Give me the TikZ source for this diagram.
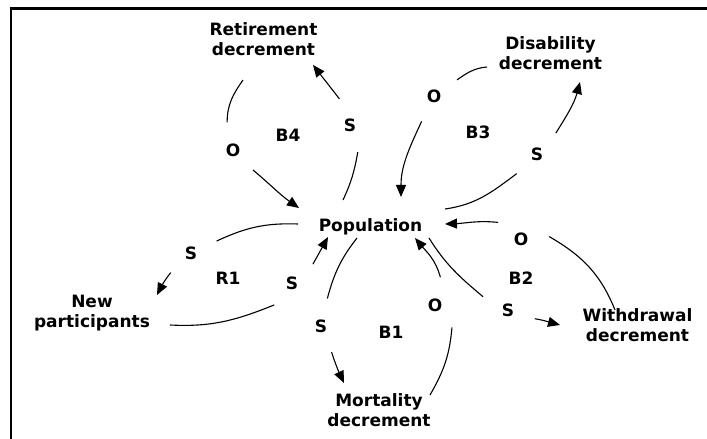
\documentclass[tikz,border=0pt]{standalone}
\usepackage{fontspec}
\setmainfont{DejaVu Sans}
\usepackage{tikz}
\usetikzlibrary{arrows.meta}
\usetikzlibrary{calc}
\tikzset{
    varnode/.style = {align=center, inner sep=0pt, font=\bfseries\fontsize{17}{20}\selectfont},
    polnode/.style = {circle, inner sep=0pt, minimum size=56pt, font=\bfseries\fontsize{17}{20}\selectfont},
    loopnode/.style = {inner sep=0pt, font=\bfseries\fontsize{17}{20}\selectfont},
    link/.style = {-, line width=1.1pt},
    linka/.style = {-{Triangle[length=12pt,width=10pt]}, line width=1.1pt},
    frame/.style = {line width=2.5pt},
}
\begin{document}
\begin{tikzpicture}[x=1pt,y=1pt]
\useasboundingbox (0,0) rectangle (707,439);
\draw[frame] (11,0) |- (707,430.3);
% stocks and flows
\node[varnode,anchor=base] at (370.5,207) (pop) {Population};
\node[varnode] at (263.5,400.3) (ret) {Retirement\\decrement};
\node[varnode] at (550.5,386) (dis) {Disability\\decrement};
\node[varnode] at (92,126.2) (newp) {New\\participants};
\node[varnode] at (379,28.5) (mort) {Mortality\\decrement};
\node[varnode] at (637.5,113.5) (wd) {Withdrawal\\decrement};
% polarities
\node[polnode] at (350,314) (sR) {S};
\node[polnode] at (233,289) (oR) {O};
\node[polnode] at (434,343) (oD) {O};
\node[polnode] at (537,285) (sD) {S};
\node[polnode] at (191,186) (sN) {S};
\node[polnode] at (292,156) (sP) {S};
\node[polnode] at (321,113) (sM) {S};
\node[polnode] at (435,134) (oM) {O};
\node[polnode] at (521,200) (oW) {O};
\node[polnode] at (508,129) (sW) {S};
% loops
\node[loopnode] at (288,304) (b4) {B4};
\node[loopnode] at (478,307) (b3) {B3};
\node[loopnode] at (228,161) (r1) {R1};
\node[loopnode] at (391,107) (b1) {B1};
\node[loopnode] at (521,161) (b2) {B2};
%
\draw[link] ($(pop.base)+(-27.5,32)$) to[out=65,in=-100] (sR.-74);
\draw[linka] (sR.112) -- ($(ret)+(49.5,-26.3)$);
\draw[link] ($(ret)+(-20.5,-41.3)$) to[out=235,in=90] (oR.102);
\draw[linka] (oR.-45) to[out=-40,in=145] ($(pop.base)+(-71.5,24)$);
%
\draw[link] ($(pop.base)+(74.5,23)$) to[out=8,in=217] (sD.224);
\draw[linka] (sD.48) to[out=58,in=-105] ($(dis)+(29.5,-29)$);
\draw[link] ($(dis)+(-63.5,-14)$) to[out=185,in=35] (oD.35);
\draw[linka] (oD.244) to[out=245,in=90] ($(pop.base)+(30.5,35)$);
%
\draw[link] ($(pop.base)+(-72.5,8)$) to[out=178,in=25] (sN.25);
\draw[linka] (sN.224) to[out=232,in=63] ($(newp)+(65,17.8)$);
\draw[link] ($(newp)+(78,-12.2)$) to[out=-3,in=202] (sP.231);
\draw[linka] (sP.42) -- ($(pop.base)+(-42.5,-5)$);
%
\draw[link] ($(pop.base)+(-13.5,-6)$) to[out=232,in=75] (sM.77);
\draw[linka] (sM.-68) to[out=-72,in=115] ($(mort)+(-35,27.5)$);
\draw[link] ($(mort)+(51,15.5)$) to[out=60,in=-95] (oM.-53);
\draw[linka] (oM.79) to[out=105,in=-50] ($(pop.base)+(44.5,-6)$);
%
\draw[link] ($(pop.base)+(58.5,-6)$) to[out=-58,in=140] (sW.152);
\draw[linka] (sW.-18) to[out=-10,in=165] ($(wd)+(-77.5,0.5)$);
\draw[link] ($(wd)+(-22.5,15.5)$) to[out=112,in=-30] (oW.5);
\draw[linka] (oW.144) to[out=174,in=2] ($(pop.base)+(74.5,8)$);
\end{tikzpicture}
\end{document}
